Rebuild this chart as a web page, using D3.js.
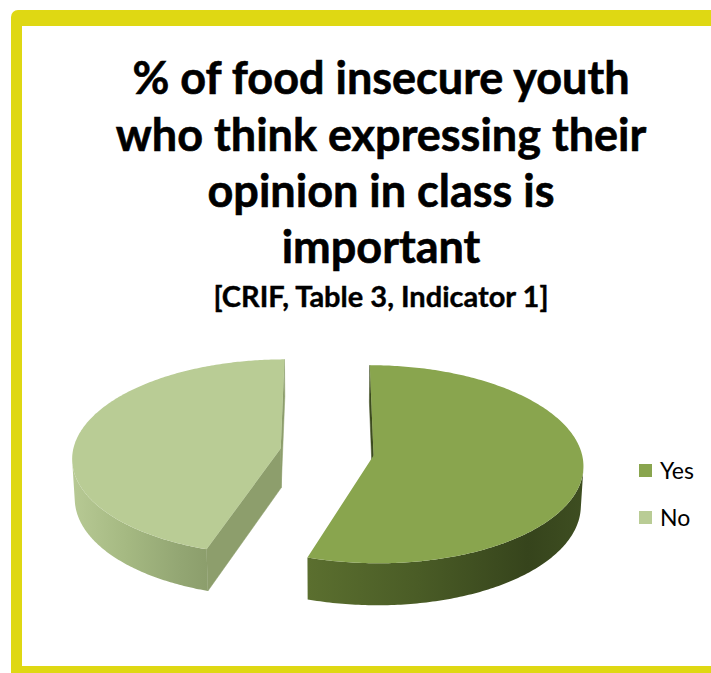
<!DOCTYPE html>
<html>
<head>
<meta charset="utf-8">
<script src="https://cdn.jsdelivr.net/npm/d3@7/dist/d3.min.js"></script>
<style>
  html, body { margin: 0; padding: 0; background: #ffffff; }
  svg { display: block; }
</style>
</head>
<body>
<svg id="chart" width="711" height="673"></svg>
<script>
// Survey answers
const categories = ["Yes", "No"];
const values = [55, 45];

// Title and source note
const titleLines = [
  "% of food insecure youth",
  "who think expressing their",
  "opinion in class is",
  "important"
];
const subtitle = "[CRIF, Table 3, Indicator 1]";

// Slice palette: top face, curved wall (left → right), cut face
const palette = {
  Yes: { top: "#89a54e", wall: ["#5b6f2f", "#4a5c26", "#36441c", "#3e4e21"], cut: "#3c4b1e" },
  No:  { top: "#b9cc95", wall: ["#b7c994", "#a5b982", "#93a673", "#8c9e6c"], cut: "#8d9e6c" }
};

const svg = d3.select("#chart");

// Frame: yellow border with a rounded top-left corner
svg.append("rect").attr("x", 11).attr("y", 10).attr("width", 760).attr("height", 700)
  .attr("rx", 7).attr("fill", "#dfd813");
svg.append("rect").attr("x", 22).attr("y", 26).attr("width", 760).attr("height", 640)
  .attr("fill", "#ffffff");

// Title
const titleFont = "Lato, 'Open Sans', 'DejaVu Sans', sans-serif";
const titleCx = 381;
const titleBaselines = [94, 150.5, 207, 263];
svg.append("g").selectAll("text").data(titleLines).join("text")
  .attr("x", titleCx).attr("y", (d, i) => titleBaselines[i])
  .attr("text-anchor", "middle")
  .attr("font-family", titleFont).attr("font-weight", 700).attr("font-size", 45)
  .attr("fill", "#000").attr("stroke", "#000").attr("stroke-width", 0.6)
  .text(d => d);
svg.append("text").attr("x", titleCx).attr("y", 307)
  .attr("text-anchor", "middle")
  .attr("font-family", titleFont).attr("font-weight", 700).attr("font-size", 29)
  .attr("fill", "#000").attr("stroke", "#000").attr("stroke-width", 0.4)
  .text(subtitle);

// ---- 3D exploded pie ----
const cx = 327, cy = 452;         // screen position of the pie centre (top face)
const R = 208;                    // radius
const depth = 45;                 // slab thickness
const explode = 47;               // slice offset along its bisector
const phi = 28 * Math.PI / 180;   // viewing elevation
const dist = 2080;                // camera distance (perspective)
const camera = [0, dist * Math.sin(phi), dist * Math.cos(phi)];

// world (px right, py up, pz toward viewer) -> screen
function project(px, py, pz) {
  const yv = pz * Math.sin(phi) - py * Math.cos(phi);
  const D = dist - (pz * Math.cos(phi) + py * Math.sin(phi));
  const s = dist / D;
  return [cx + px * s, cy + yv * s];
}
// point on the slab at angle a (clockwise from 12 o'clock), radius r, height y
function pt(a, r, y, o) {
  return project(o[0] + r * Math.sin(a), y, o[1] - r * Math.cos(a));
}
function facing(n, p) {
  return n[0] * (camera[0] - p[0]) + n[1] * (camera[1] - p[1]) + n[2] * (camera[2] - p[2]) > 0;
}

const arcs = d3.pie().sort(null).value(d => d)(values);
const line = d3.line();
const defs = svg.append("defs");
const pieG = svg.append("g");

arcs.forEach((arc, i) => {
  const name = categories[i];
  const col = palette[name];
  const a0 = arc.startAngle, a1 = arc.endAngle;
  const mid = (a0 + a1) / 2;
  const o = [explode * Math.sin(mid), -explode * Math.cos(mid)];
  const g = pieG.append("g").attr("class", "slice-" + name);

  // cut faces along the two radii
  [[a0, -1], [a1, 1]].forEach(([a, sgn]) => {
    const n = [sgn * Math.cos(a), 0, sgn * Math.sin(a)];
    const p = [o[0] + 0.5 * R * Math.sin(a), -depth / 2, o[1] - 0.5 * R * Math.cos(a)];
    if (!facing(n, p)) return;
    const poly = [pt(a, 0, 0, o), pt(a, R, 0, o), pt(a, R, -depth, o), pt(a, 0, -depth, o)];
    g.append("path").attr("d", line(poly) + "Z").attr("fill", col.cut)
      .attr("stroke", col.cut).attr("stroke-width", 0.5);
  });

  // visible part of the curved outer wall
  const steps = 240;
  const vis = [];
  for (let k = 0; k <= steps; k++) {
    const a = a0 + (a1 - a0) * k / steps;
    const n = [Math.sin(a), 0, -Math.cos(a)];
    const p = [o[0] + R * Math.sin(a), -depth / 2, o[1] - R * Math.cos(a)];
    if (facing(n, p)) vis.push(a);
  }
  if (vis.length > 1) {
    const topEdge = vis.map(a => pt(a, R, 0, o));
    const botEdge = vis.slice().reverse().map(a => pt(a, R, -depth, o));
    const xs = topEdge.map(d => d[0]);
    const gid = "wall-" + name;
    const grad = defs.append("linearGradient").attr("id", gid)
      .attr("gradientUnits", "userSpaceOnUse")
      .attr("x1", d3.min(xs)).attr("x2", d3.max(xs)).attr("y1", 0).attr("y2", 0);
    const offs = [0, 0.4, 0.8, 1];
    col.wall.forEach((c, j) => grad.append("stop").attr("offset", offs[j]).attr("stop-color", c));
    g.append("path").attr("d", line(topEdge.concat(botEdge)) + "Z")
      .attr("fill", `url(#${gid})`);
  }

  // top face
  const top = [pt(a0, 0, 0, o)];
  for (let k = 0; k <= steps; k++) top.push(pt(a0 + (a1 - a0) * k / steps, R, 0, o));
  g.append("path").attr("d", line(top) + "Z").attr("fill", col.top);
});

// ---- Legend ----
const legendFont = "Lato, 'Open Sans', 'DejaVu Sans', sans-serif";
const legendY = d3.scalePoint().domain(categories).range([471, 518]);
const lg = svg.append("g").selectAll("g").data(categories).join("g")
  .attr("transform", d => `translate(0,${legendY(d)})`);
lg.append("rect").attr("x", 639).attr("y", -7).attr("width", 13).attr("height", 13)
  .attr("fill", d => palette[d].top);
lg.append("text").attr("x", 660).attr("y", 7.5)
  .attr("font-family", legendFont).attr("font-size", 23).attr("fill", "#000")
  .text(d => d);
</script>
</body>
</html>
